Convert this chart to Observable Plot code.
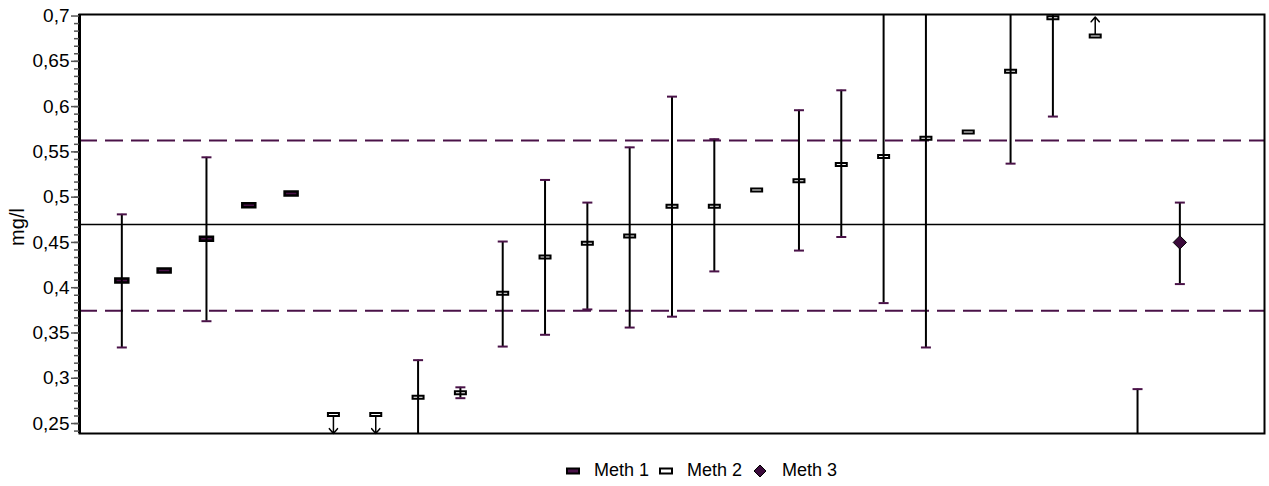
<!DOCTYPE html>
<html><head><meta charset="utf-8">
<script src="https://cdn.jsdelivr.net/npm/d3@7"></script>
<script src="https://cdn.jsdelivr.net/npm/@observablehq/plot@0.6"></script>
<style>
body{margin:0;background:#fff;font-family:"Liberation Sans",Arial,sans-serif;}
#wrap{position:relative;width:1269px;height:486px;}
#legend{position:absolute;left:566px;top:460px;display:flex;align-items:center;font-size:18px;color:#000;white-space:nowrap;}
#legend span.t{margin:0 10px 0 14px;}
</style>
</head><body><div id="wrap"><div id="chart"></div><div id="legend"></div></div>
<script>
// ---- data ----
const positions = [1,2,3,4,5,6,7,8,9,10,11,12,13,14,15,16,17,18,19,20,21,22,23,24,25,26];
const methods   = [1,1,1,1,1,2,2,2,2,2,2,2,2,2,2,2,2,2,2,2,2,2,2,2,2,3];
const values    = [0.408,0.419,0.454,0.491,0.504,0.260,0.260,0.279,0.284,0.394,0.434,0.449,0.457,0.490,0.490,0.508,0.518,0.536,0.545,0.565,0.572,0.639,0.698,0.678,null,0.450];
const lows      = [0.334,null,0.363,null,null,null,null,0.200,0.278,0.335,0.348,0.376,0.356,0.368,0.418,null,0.441,0.456,0.383,0.334,null,0.537,0.589,null,0.200,0.404];
const highs     = [0.481,null,0.544,null,null,null,null,0.320,0.290,0.451,0.519,0.494,0.555,0.611,0.564,null,0.596,0.618,0.800,0.800,null,0.800,0.800,null,0.288,0.494];
const flags     = ["","","","","","<","<","","","","","","","","","","","","","","","","",">","",""];
const meanValue = 0.4698;
const upperLimit = 0.5625;
const lowerLimit = 0.3745;
const yTicks = [0.25,0.3,0.35,0.4,0.45,0.5,0.55,0.6,0.65,0.7];
const yLabel = "mg/l";
const legendLabels = ["Meth 1","Meth 2","Meth 3"];

// ---- table ----
const rows = positions.map((p,i)=>({x:p, m:methods[i], v:values[i], lo:lows[i], hi:highs[i], f:flags[i]}));
const yDomain = [0.239, 0.7017];
const arrowLen = 0.021;

const purple = "#4a1248";
const rectM1 = {draw(c){ c.rect(-6.5,-2,13,4); }};
const rectM2 = {draw(c){ c.rect(-5.5,-1.5,11,3); }};
const capSym = {draw(c){ c.moveTo(-5,0); c.lineTo(5,0); }};

const minor = d3.range(0, 60).map(k => 0.2 + k*0.05/6).filter(t => t >= yDomain[0] && t <= yDomain[1]);
const fmt = d => String(d).replace(".", ",");

const withErr = rows.filter(d => d.lo != null && d.hi != null);
const chart = Plot.plot({
  width: 1269, height: 440,
  marginLeft: 79, marginRight: 5, marginTop: 14, marginBottom: 7,
  x: {domain: [0, 28], axis: null},
  y: {domain: yDomain, axis: null},
  style: {fontFamily: '"Liberation Sans", Arial, sans-serif', background: "#fff"},
  marks: [
    Plot.ruleY([upperLimit, lowerLimit], {stroke: purple, strokeWidth: 2, strokeDasharray: "18,8"}),
    Plot.ruleY([meanValue], {stroke: "#000", strokeWidth: 1.5}),
    Plot.arrow(rows.filter(d => d.f === "<"), {x1: "x", x2: "x", y1: "v", y2: d => d.v - arrowLen, stroke: "#000", strokeWidth: 1.5, headLength: 10, headAngle: 80}),
    Plot.arrow(rows.filter(d => d.f === ">"), {x1: "x", x2: "x", y1: "v", y2: d => d.v + arrowLen, stroke: "#000", strokeWidth: 1.5, headLength: 10, headAngle: 80}),
    Plot.dot(rows.filter(d => d.m === 1 && d.v != null), {x: "x", y: "v", symbol: rectM1, r: 5, fill: purple, stroke: "#000", strokeWidth: 2.5, clip: true}),
    Plot.dot(rows.filter(d => d.m === 2 && d.v != null), {x: "x", y: "v", symbol: rectM2, r: 5, fill: "#fff", stroke: "#000", strokeWidth: 2, clip: true}),
    Plot.ruleX(withErr, {x: "x", y1: "lo", y2: "hi", stroke: "#000", strokeWidth: 2, clip: true}),
    Plot.dot(withErr, {x: "x", y: "hi", symbol: capSym, r: 5, stroke: purple, strokeWidth: 2, clip: true}),
    Plot.dot(withErr, {x: "x", y: "lo", symbol: capSym, r: 5, stroke: purple, strokeWidth: 2, clip: true}),
    Plot.dot(rows.filter(d => d.m === 3), {x: "x", y: "v", symbol: "diamond2", r: 6, fill: "#3b0a3b", stroke: "#000", strokeWidth: 1}),
    Plot.frame({stroke: "#000", strokeWidth: 2}),
    Plot.ruleX([0], {stroke: "#000", strokeWidth: 3}),
    Plot.axisY(minor, {tickSize: 5, tickFormat: () => "", stroke: "#555", strokeWidth: 1.5}),
    Plot.axisY(yTicks, {tickSize: 8, tickPadding: 2, tickFormat: fmt, fontSize: 19, label: null, stroke: "#555", strokeWidth: 1.5, fill: "#000"}),
    Plot.text([yLabel], {frameAnchor: "left", textAnchor: "middle", dx: -62, dy: 3, rotate: -90, fontSize: 20, fill: "#000"})
  ]
});
document.getElementById("chart").appendChild(chart);

// ---- legend ----
const lg = document.getElementById("legend");
const icons = [
  '<svg width="14" height="8"><rect x="1" y="1.5" width="12" height="5" fill="'+purple+'" stroke="#000" stroke-width="2"/></svg>',
  '<svg width="14" height="8"><rect x="1" y="1.5" width="12" height="5" fill="#fff" stroke="#000" stroke-width="2"/></svg>',
  '<svg width="16" height="16"><path d="M8,2 L14,8 L8,14 L2,8 Z" fill="#3b0a3b" stroke="#000" stroke-width="1"/></svg>'
];
legendLabels.forEach((l,i) => {
  lg.insertAdjacentHTML("beforeend", icons[i] + '<span class="t">' + l + '</span>');
});
</script>
</body></html>
